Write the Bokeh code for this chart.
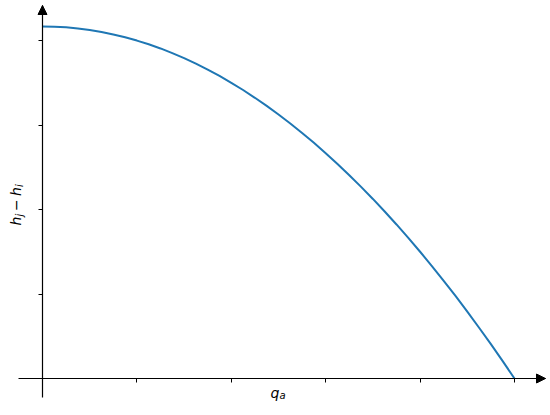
from bokeh.plotting import figure
from bokeh.models import Range1d, FixedTicker, Label, Arrow, NormalHead
from bokeh.embed import file_html
from bokeh.resources import INLINE

# ---- data ----
q_a = [0.0, 0.125, 0.25, 0.375, 0.5, 0.625, 0.75, 0.875, 1.0, 1.125, 1.25,
       1.375, 1.5, 1.625, 1.75, 1.875, 2.0, 2.125, 2.25, 2.375, 2.5,
       2.625, 2.75, 2.875, 3.0, 3.125, 3.25, 3.375, 3.5, 3.625, 3.75,
       3.875, 4.0, 4.125, 4.25, 4.375, 4.5, 4.625, 4.75, 4.875, 5.0]
head_diff = [4.166, 4.163, 4.156, 4.143, 4.124, 4.101, 4.072, 4.038, 3.999, 3.955, 3.906,
             3.851, 3.791, 3.726, 3.656, 3.580, 3.499, 3.414, 3.322, 3.226, 3.125,
             3.018, 2.906, 2.789, 2.666, 2.539, 2.406, 2.268, 2.125, 1.976, 1.823,
             1.664, 1.500, 1.331, 1.156, 0.977, 0.792, 0.601, 0.406, 0.206, 0.0]
x_ticks = [0, 1, 2, 3, 4, 5]
y_ticks = [0, 1, 2, 3, 4]

# ---- geometry (pixels) ----
PXX, PXY = 94.4, 84.5          # pixels per data unit
X0, Y0 = 42.0, 378.0           # position of data origin
W, H = 550, 415
FL, FR, FT, FB = 6, 548, 2, 410            # frame edges (canvas px)
AX_L, AX_R, AX_T, AX_B = 18.0, 545.0, 5.0, 397.0   # axis line extents
SHIFT = 7.5                                 # baseline correction


def dx(px):
    return (px - X0) / PXX


def dy(py):
    return (Y0 - py) / PXY


p = figure(width=W, height=H,
           x_range=Range1d(dx(FL), dx(FR)),
           y_range=Range1d(dy(FB), dy(FT)),
           output_backend="svg", toolbar_location=None,
           min_border_left=FL, min_border_right=W - FR,
           min_border_top=FT, min_border_bottom=H - FB)
p.outline_line_color = None
p.xgrid.visible = False
p.ygrid.visible = False
p.background_fill_color = "white"
p.border_fill_color = "white"

for ax, ticks, bnds in ((p.xaxis, x_ticks, (dx(AX_L), dx(AX_R))),
                        (p.yaxis, y_ticks, (dy(AX_B), dy(AX_T)))):
    ax.fixed_location = 0
    ax.bounds = bnds
    ax.ticker = FixedTicker(ticks=ticks)
    ax.major_label_overrides = {t: "" for t in ticks}
    ax.minor_tick_line_color = None
    ax.major_tick_in = 0
    ax.major_tick_out = 4
    ax.major_tick_line_color = "black"
    ax.major_tick_line_width = 1
    ax.axis_line_color = "black"
    ax.axis_line_width = 1.2
    ax.major_label_standoff = 0

p.line(q_a, head_diff, line_color="#1f77b4", line_width=2)

# arrow heads at the ends of the axes
p.add_layout(Arrow(end=NormalHead(size=9, fill_color="black", line_color="black", line_width=1),
                   x_start=dx(AX_R - 12), y_start=0, x_end=dx(AX_R), y_end=0,
                   line_alpha=0))
p.add_layout(Arrow(end=NormalHead(size=9, fill_color="black", line_color="black", line_width=1),
                   x_start=0, y_start=dy(AX_T + 12), x_end=0, y_end=dy(AX_T),
                   line_alpha=0))

FONT = "DejaVu Sans"


def lab(text, px, py, size, angle=0, italic=True):
    p.add_layout(Label(x=dx(px), y=dy(py), text=text, text_font=FONT,
                       text_font_size=f"{size}px",
                       text_font_style="italic" if italic else "normal",
                       text_color="black", angle=angle, angle_units="deg",
                       text_align="left", text_baseline="alphabetic"))


# x label  q_a
lab("q", 270, 399.5 - SHIFT, 14)
lab("a", 279, 402.5 - SHIFT, 10)

# y label  h_j − h_i  (rotated)
lab("h", 23 - SHIFT, 225, 14, 90)
lab("j", 26 - SHIFT, 216, 10, 90)
lab("\u2212", 23 - SHIFT, 210.5, 14, 90, italic=False)
lab("h", 23 - SHIFT, 195.5, 14, 90)
lab("i", 26 - SHIFT, 186.6, 10, 90)

open("out.html", "w").write(file_html(p, INLINE))
